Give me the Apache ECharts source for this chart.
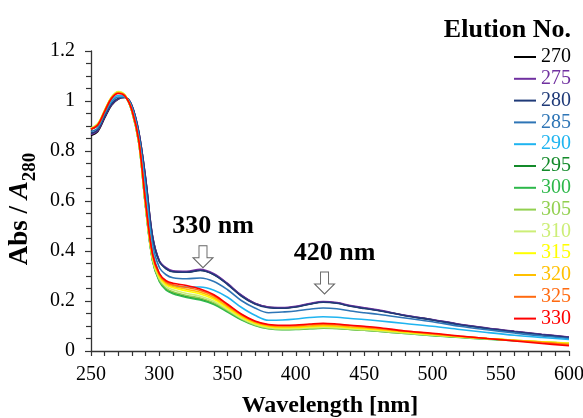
<!DOCTYPE html>
<html>
<head>
<meta charset="utf-8">
<script src="https://cdn.jsdelivr.net/npm/echarts@6/dist/echarts.min.js"></script>
<style>
html,body{margin:0;padding:0;background:#fff;}
#chart{width:583px;height:418px;}
</style>
</head>
<body>
<div id="chart"></div>
<script>
const wavelengths = [250,255,260,265,270,275,280,285,290,295,300,305,310,320,330,340,350,360,370,380,390,400,410,420,430,440,450,460,480,500,520,540,560,580,600];

const elutionNames = ['270','275','280','285','290','295','300','305','310','315','320','325','330'];
const elutionColors = ['#000000','#7030A0','#1F3A78','#2E75B6','#1FB4F0','#138A2A','#2DB84A','#92D050','#CCEE77','#FFFF00','#FFC000','#FF6A10','#FF0000'];

const s270 = [0.862,0.878,0.932,0.983,1.008,1.014,0.980,0.875,0.690,0.460,0.360,0.330,0.318,0.316,0.323,0.306,0.268,0.222,0.190,0.175,0.172,0.177,0.188,0.196,0.192,0.180,0.171,0.163,0.142,0.125,0.106,0.091,0.078,0.066,0.055];
const s275 = [0.866,0.882,0.936,0.985,1.009,1.015,0.982,0.877,0.692,0.462,0.362,0.333,0.321,0.319,0.327,0.309,0.270,0.224,0.191,0.176,0.174,0.179,0.190,0.198,0.194,0.182,0.173,0.165,0.143,0.126,0.107,0.092,0.079,0.067,0.056];
const s280 = [0.870,0.886,0.940,0.988,1.011,1.015,0.980,0.873,0.686,0.456,0.358,0.329,0.317,0.315,0.322,0.305,0.266,0.220,0.188,0.173,0.171,0.176,0.187,0.195,0.191,0.179,0.170,0.162,0.141,0.124,0.105,0.090,0.077,0.065,0.054];
const s285 = [0.878,0.892,0.948,0.996,1.016,1.016,0.975,0.862,0.660,0.430,0.335,0.305,0.293,0.289,0.292,0.278,0.245,0.202,0.172,0.153,0.156,0.160,0.167,0.172,0.169,0.160,0.153,0.147,0.132,0.117,0.099,0.085,0.072,0.060,0.050];
const s290 = [0.893,0.900,0.955,1.003,1.022,1.017,0.970,0.852,0.635,0.405,0.310,0.275,0.261,0.256,0.256,0.243,0.215,0.175,0.143,0.123,0.124,0.128,0.134,0.137,0.135,0.130,0.126,0.121,0.110,0.099,0.086,0.074,0.063,0.054,0.046];
const s295 = [0.888,0.905,0.960,1.012,1.034,1.020,0.958,0.832,0.575,0.365,0.282,0.248,0.233,0.218,0.208,0.190,0.160,0.128,0.105,0.092,0.088,0.089,0.092,0.094,0.092,0.088,0.085,0.081,0.072,0.063,0.056,0.049,0.042,0.036,0.031];
const s300 = [0.886,0.903,0.958,1.012,1.035,1.021,0.957,0.830,0.572,0.362,0.278,0.243,0.229,0.214,0.204,0.186,0.156,0.125,0.102,0.089,0.085,0.086,0.089,0.091,0.090,0.086,0.083,0.079,0.070,0.061,0.054,0.047,0.041,0.035,0.030];
const s305 = [0.890,0.908,0.962,1.014,1.036,1.022,0.958,0.832,0.575,0.366,0.284,0.251,0.237,0.222,0.212,0.193,0.162,0.129,0.104,0.090,0.086,0.087,0.090,0.092,0.090,0.086,0.083,0.079,0.070,0.062,0.055,0.048,0.042,0.036,0.031];
const s310 = [0.892,0.910,0.964,1.016,1.038,1.023,0.959,0.834,0.578,0.370,0.290,0.258,0.245,0.230,0.219,0.199,0.166,0.132,0.107,0.093,0.089,0.090,0.093,0.095,0.093,0.089,0.086,0.082,0.073,0.064,0.056,0.049,0.043,0.037,0.032];
const s315 = [0.890,0.908,0.962,1.015,1.036,1.022,0.960,0.836,0.582,0.375,0.296,0.265,0.253,0.240,0.228,0.207,0.172,0.137,0.111,0.097,0.093,0.094,0.097,0.099,0.097,0.093,0.089,0.085,0.075,0.066,0.057,0.050,0.043,0.037,0.031];
const s320 = [0.888,0.906,0.960,1.013,1.034,1.021,0.961,0.838,0.586,0.380,0.301,0.271,0.259,0.247,0.235,0.213,0.177,0.141,0.114,0.100,0.096,0.097,0.100,0.102,0.100,0.096,0.092,0.087,0.077,0.067,0.058,0.050,0.043,0.036,0.029];
const s325 = [0.888,0.905,0.960,1.012,1.032,1.020,0.962,0.840,0.590,0.385,0.306,0.276,0.265,0.254,0.242,0.220,0.183,0.146,0.118,0.104,0.100,0.101,0.105,0.107,0.105,0.101,0.096,0.091,0.080,0.069,0.059,0.050,0.042,0.034,0.025];
const s330 = [0.887,0.904,0.958,1.010,1.030,1.019,0.963,0.842,0.595,0.390,0.311,0.281,0.271,0.262,0.248,0.225,0.187,0.148,0.120,0.106,0.103,0.104,0.108,0.111,0.108,0.103,0.099,0.094,0.080,0.071,0.060,0.050,0.040,0.030,0.021];

const seriesValues = [s270,s275,s280,s285,s290,s295,s300,s305,s310,s315,s320,s325,s330];

const xTicks = {min: 250, max: 600, interval: 50};
const yTicks = {min: 0, max: 1.2, interval: 0.2};

const annotations = [
  {label: '330 nm', coord: [332, 0.377]},
  {label: '420 nm', coord: [421, 0.272]}
];

const FONT = '"Liberation Serif", "Times New Roman", serif';
const arrowPath = 'path://M6,0 L14,0 L14,12 L20,12 L10,22 L0,12 L6,12 Z';

const series = elutionNames.map((name, i) => {
  const s = {
    name: name,
    type: 'line',
    smooth: 0.35,
    showSymbol: false,
    symbol: 'none',
    lineStyle: {color: elutionColors[i], width: 1.6},
    itemStyle: {color: elutionColors[i]},
    data: wavelengths.map((w, k) => [w, seriesValues[i][k]]),
    z: 2 + i
  };
  if (i === 0) {
    s.markPoint = {
      symbol: arrowPath,
      symbolSize: [20, 22],
      symbolKeepAspect: false,
      itemStyle: {color: '#ffffff', borderColor: '#666666', borderWidth: 1},
      label: {
        show: true,
        position: 'inside',
        offset: [10, -30],
        color: '#000',
        fontFamily: FONT,
        fontWeight: 'bold',
        fontSize: 26,
        formatter: p => p.name
      },
      data: annotations.map(a => ({name: a.label, coord: a.coord}))
    };
  }
  return s;
});

const chart = echarts.init(document.getElementById('chart'), null, {renderer: 'canvas'});
chart.setOption({
  animation: false,
  backgroundColor: '#ffffff',
  title: {
    text: 'Elution No.',
    right: 7,
    top: 12,
    textStyle: {fontFamily: FONT, fontWeight: 'bold', fontSize: 26, color: '#000'}
  },
  legend: {
    orient: 'vertical',
    left: 509,
    top: 42,
    itemWidth: 22,
    itemHeight: 2,
    itemGap: 1.8,
    icon: 'rect',
    textStyle: {fontFamily: FONT, fontSize: 20, lineHeight: 20},
    data: elutionNames.map((n, i) => ({name: n, textStyle: {color: elutionColors[i]}}))
  },
  grid: {left: 91, right: 14, top: 51, bottom: 67, outerBoundsMode: 'none', containLabel: false},
  xAxis: {
    type: 'value',
    min: xTicks.min, max: xTicks.max, interval: xTicks.interval,
    name: 'Wavelength [nm]',
    nameLocation: 'middle',
    nameGap: 43,
    nameTextStyle: {fontFamily: FONT, fontWeight: 'bold', fontSize: 24, color: '#000'},
    axisLine: {onZero: false, lineStyle: {color: '#333', width: 1.3}},
    axisTick: {show: true, inside: false, length: 5, lineStyle: {color: '#333', width: 1.2}},
    minorTick: {show: true, splitNumber: 5, length: 5, lineStyle: {color: '#333', width: 1.2}},
    axisLabel: {fontFamily: FONT, fontSize: 20, color: '#000', margin: 14},
    splitLine: {show: false}
  },
  yAxis: {
    type: 'value',
    min: yTicks.min, max: yTicks.max, interval: yTicks.interval,
    name: '{a|Abs / }{i|A}{s|280}',
    nameLocation: 'middle',
    nameRotate: 90,
    nameGap: 50,
    nameTextStyle: {
      padding: [0, 16, 0, 0],
      rich: {
        a: {fontFamily: FONT, fontWeight: 'bold', fontSize: 27, color: '#000', lineHeight: 38, verticalAlign: 'middle'},
        i: {fontFamily: FONT, fontWeight: 'bold', fontStyle: 'italic', fontSize: 27, color: '#000', lineHeight: 38, verticalAlign: 'middle'},
        s: {fontFamily: FONT, fontWeight: 'bold', fontSize: 19, color: '#000', lineHeight: 38, verticalAlign: 'bottom'}
      }
    },
    axisLine: {show: true, onZero: false, lineStyle: {color: '#333', width: 1.3}},
    axisTick: {show: true, inside: false, length: 6, lineStyle: {color: '#333', width: 1.2}},
    minorTick: {show: true, splitNumber: 4, length: 5, lineStyle: {color: '#333', width: 1.2}},
    axisLabel: {fontFamily: FONT, fontSize: 20, color: '#000', margin: 16},
    splitLine: {show: false}
  },
  series: series
});
</script>
</body>
</html>
